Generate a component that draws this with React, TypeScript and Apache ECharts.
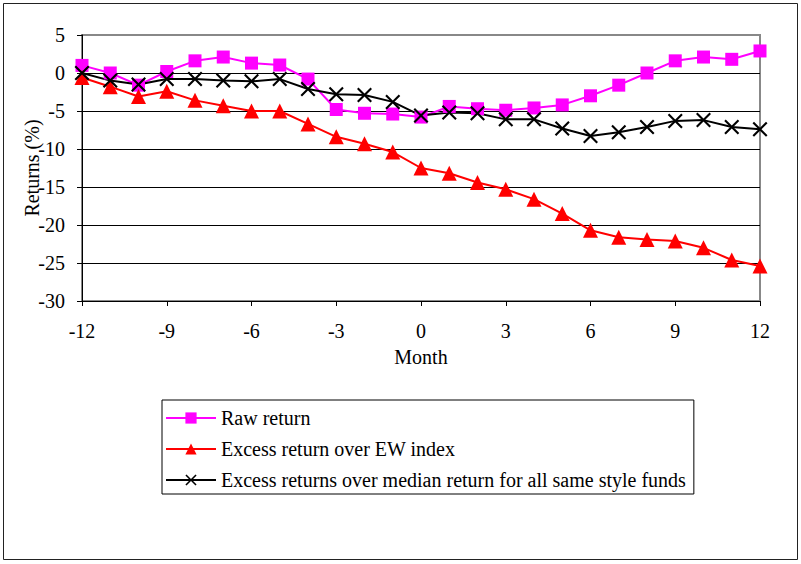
import React, { useEffect, useRef } from "react";
import * as echarts from "echarts";

const months = [-12, -11, -10, -9, -8, -7, -6, -5, -4, -3, -2, -1, 0, 1, 2, 3, 4, 5, 6, 7, 8, 9, 10, 11, 12];
const rawReturn = [1.0, 0.0, -1.6, 0.2, 1.6, 2.1, 1.3, 1.05, -0.8, -4.8, -5.3, -5.4, -5.8, -4.4, -4.7, -4.9, -4.6, -4.2, -3.0, -1.6, 0.0, 1.6, 2.1, 1.8, 2.9];
const excessEW = [-0.6, -1.8, -3.1, -2.4, -3.6, -4.3, -5.0, -5.0, -6.7, -8.4, -9.3, -10.4, -12.5, -13.2, -14.4, -15.3, -16.6, -18.5, -20.7, -21.6, -21.9, -22.1, -23.0, -24.6, -25.4];
const excessMedian = [0.0, -1.0, -1.5, -0.8, -0.8, -1.0, -1.1, -0.8, -2.1, -2.8, -2.9, -3.8, -5.6, -5.2, -5.3, -6.1, -6.1, -7.3, -8.3, -7.8, -7.1, -6.3, -6.2, -7.1, -7.4];
const seriesNames = [
  "Raw return",
  "Excess return over EW index",
  "Excess returns over median return for all same style funds",
];

const FONT = "Liberation Serif";
const FS = 20;
const X_SYMBOL = "path://M0,1 L1,0 L5,4 L9,0 L10,1 L6,5 L10,9 L9,10 L5,6 L1,10 L0,9 L4,5 Z";

export default function App() {
  const ref = useRef<HTMLDivElement>(null);
  useEffect(() => {
    document.body.style.margin = "0";
    const chart = echarts.init(ref.current!, null, { renderer: "svg" });
    const pair = (arr: number[]) => months.map((m, i) => [m, arr[i]]);
    chart.setOption({
      animation: false,
      backgroundColor: "#fff",
      textStyle: { fontFamily: FONT },
      grid: {
        left: 82,
        right: 41,
        top: 35,
        bottom: 263,
        show: true,
        borderColor: "#888",
        borderWidth: 2,
        backgroundColor: "transparent",
      },
      xAxis: {
        type: "value",
        min: -12,
        max: 12,
        interval: 3,
        name: "Month",
        nameLocation: "middle",
        nameGap: 46,
        nameMoveOverlap: false,
        nameTextStyle: { fontFamily: FONT, fontSize: FS, color: "#000" },
        axisLine: { onZero: false, lineStyle: { color: "#000", width: 1 } },
        axisTick: { show: true, length: 5, lineStyle: { color: "#000" } },
        axisLabel: { fontFamily: FONT, fontSize: FS, color: "#000", margin: 20 },
        splitLine: { show: false },
      },
      yAxis: {
        type: "value",
        min: -30,
        max: 5,
        interval: 5,
        name: "Returns (%)",
        nameLocation: "middle",
        nameGap: 40,
        nameMoveOverlap: false,
        nameRotate: 90,
        nameTextStyle: { fontFamily: FONT, fontSize: FS, color: "#000" },
        axisLine: { show: true, onZero: false, lineStyle: { color: "#000", width: 1 } },
        axisTick: { show: true, length: 5, lineStyle: { color: "#000" } },
        axisLabel: { fontFamily: FONT, fontSize: FS, color: "#000", margin: 17 },
        splitLine: { show: true, showMaxLine: false, showMinLine: false, lineStyle: { color: "#000", width: 1 } },
      },
      legend: {
        orient: "vertical",
        left: 162,
        top: 400,
        padding: [8, 8, 4, 3],
        itemGap: 11,
        itemWidth: 50,
        itemHeight: 14,
        borderColor: "#000",
        borderWidth: 1,
        textStyle: { fontFamily: FONT, fontSize: FS, color: "#000" },
        data: seriesNames,
      },
      graphic: [
        {
          type: "rect",
          shape: { x: 3.5, y: 3.5, width: 794, height: 556 },
          style: { fill: "none", stroke: "#222", lineWidth: 1 },
          silent: true,
        },
      ],
      series: [
        {
          name: seriesNames[0],
          type: "line",
          data: pair(rawReturn),
          symbol: "rect",
          symbolSize: 13,
          lineStyle: { color: "#FF00FF", width: 2 },
          itemStyle: { color: "#FF00FF" },
        },
        {
          name: seriesNames[1],
          type: "line",
          data: pair(excessEW),
          symbol: "triangle",
          symbolSize: 15,
          lineStyle: { color: "#FF0000", width: 2 },
          itemStyle: { color: "#FF0000" },
        },
        {
          name: seriesNames[2],
          type: "line",
          data: pair(excessMedian),
          symbol: X_SYMBOL,
          symbolSize: 15,
          lineStyle: { color: "#000", width: 2 },
          itemStyle: { color: "#000" },
        },
      ],
    });
    return () => chart.dispose();
  }, []);
  return <div ref={ref} style={{ width: 801, height: 564 }} />;
}
